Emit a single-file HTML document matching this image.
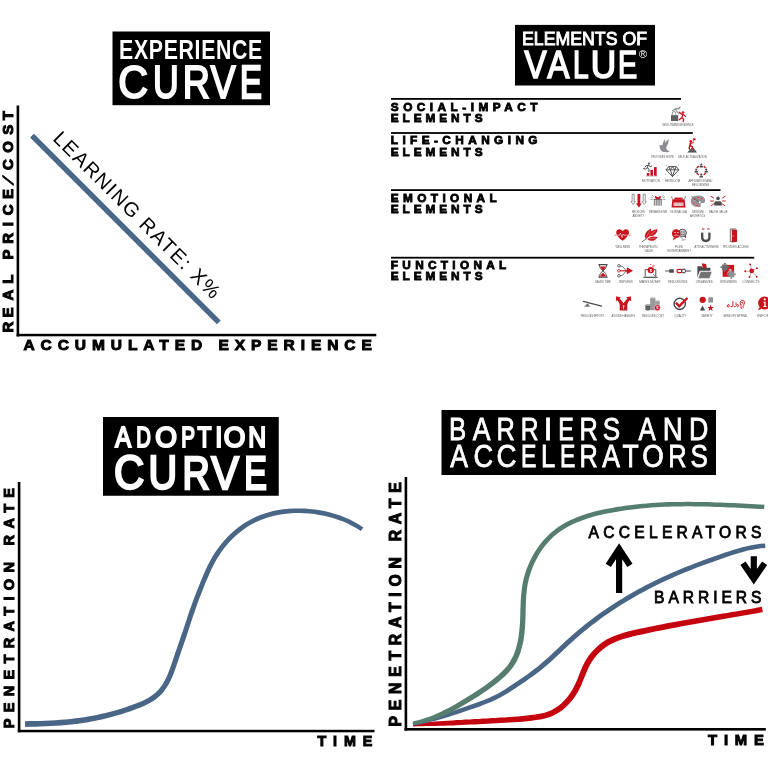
<!DOCTYPE html>
<html lang="en">
<head>
<meta charset="utf-8">
<title>Experience curve, elements of value, adoption curve, barriers and accelerators</title>
<style>
html,body{margin:0;padding:0;background:#fff;}
body{width:768px;height:768px;overflow:hidden;position:relative;font-family:'Liberation Sans', sans-serif;}
svg{position:absolute;left:0;top:0;display:block;will-change:transform;}
svg text{font-family:'Liberation Sans', sans-serif;}
</style>
</head>
<body>
<svg width="768" height="768" viewBox="0 0 768 768">
<rect x="112.5" y="31.5" width="157.5" height="73.7" fill="#000"/>
<text transform="translate(119.1 58.7) scale(0.765 1)" font-size="27.8" font-weight="bold" fill="#fff" textLength="187.19" lengthAdjust="spacing">EXPERIENCE</text>
<text y="98.1" font-size="45.4" font-weight="normal" fill="#fff"><tspan x="118.21" textLength="29.76" lengthAdjust="spacingAndGlyphs" stroke="#fff" stroke-width="2.0">C</tspan><tspan x="152.90" textLength="25.75" lengthAdjust="spacingAndGlyphs" stroke="#fff" stroke-width="2.0">U</tspan><tspan x="182.81" textLength="27.18" lengthAdjust="spacingAndGlyphs" stroke="#fff" stroke-width="2.0">R</tspan><tspan x="210.38" textLength="25.23" lengthAdjust="spacingAndGlyphs" stroke="#fff" stroke-width="1.8">V</tspan><tspan x="240.01" textLength="21.84" lengthAdjust="spacingAndGlyphs" stroke="#fff" stroke-width="2.4">E</tspan></text>
<rect x="16.6" y="105.5" width="2.6" height="231" fill="#000"/>
<rect x="16.6" y="333.8" width="359.7" height="2.5" fill="#000"/>
<g id="ylabel-tl">
<text x="12.29 27.34 44.29 61.10 74.80 85.35 100.94 118.52 129.58 145.89" y="332" font-size="15" font-weight="bold" fill="#000" transform="rotate(-90 12.8 332)" stroke="#000" stroke-width="1.0">REAL PRICE</text>
<text transform="translate(12.8 185.3) rotate(-90) skewX(-31)" x="0" y="0" font-size="14.2" font-weight="bold" stroke="#000" stroke-width="0.9">/</text>
<text x="174.73 192.02 210.10 224.52" y="332" font-size="15" font-weight="bold" fill="#000" transform="rotate(-90 12.8 332)" stroke="#000" stroke-width="1.0">COST</text>
</g>
<text x="23.4" y="350.3" font-size="15.5" font-weight="bold" fill="#000" textLength="348.4" lengthAdjust="spacing" stroke="#000" stroke-width="1.0">ACCUMULATED EXPERIENCE</text>
<line x1="32" y1="135.7" x2="218.8" y2="322.4" stroke="#4b6787" stroke-width="5.4"/>
<text x="51.9" y="139.4" font-size="20" font-weight="normal" fill="#000" textLength="227" lengthAdjust="spacing" transform="rotate(45 51.9 139.4)">LEARNING RATE: X%</text>
<rect x="515" y="24.9" width="140" height="60.6" fill="#000"/>
<text x="522" y="44.8" font-size="18.2" font-weight="normal" fill="#fff" textLength="125" lengthAdjust="spacingAndGlyphs" stroke="#fff" stroke-width="0.9">ELEMENTS OF</text>
<text y="78.25" font-size="38.2" font-weight="normal" fill="#fff"><tspan x="524.45" textLength="22.04" lengthAdjust="spacingAndGlyphs" stroke="#fff" stroke-width="1.7">V</tspan><tspan x="547.39" textLength="21.83" lengthAdjust="spacingAndGlyphs" stroke="#fff" stroke-width="1.7">A</tspan><tspan x="573.04" textLength="15.64" lengthAdjust="spacingAndGlyphs" stroke="#fff" stroke-width="1.7">L</tspan><tspan x="590.73" textLength="25.43" lengthAdjust="spacingAndGlyphs" stroke="#fff" stroke-width="1.7">U</tspan><tspan x="617.89" textLength="19.20" lengthAdjust="spacingAndGlyphs" stroke="#fff" stroke-width="1.7">E</tspan></text>
<text x="643.05" y="58.2" font-size="11.4" font-weight="normal" fill="#fff" text-anchor="middle">®</text>
<rect x="391" y="98.0" width="290" height="1.8" fill="#000"/>
<rect x="391" y="132.1" width="301.75" height="1.8" fill="#000"/>
<rect x="391" y="189.2" width="329.5" height="1.8" fill="#000"/>
<rect x="391" y="256.8" width="363.25" height="1.8" fill="#000"/>
<text x="390.8" y="110.6" font-size="11.8" font-weight="bold" fill="#000" textLength="146.7" lengthAdjust="spacing" stroke="#000" stroke-width="0.85">SOCIAL-IMPACT</text>
<text x="390.8" y="121.75" font-size="11.8" font-weight="bold" fill="#000" textLength="91.7" lengthAdjust="spacing" stroke="#000" stroke-width="0.85">ELEMENTS</text>
<text x="390.8" y="144.35" font-size="11.8" font-weight="bold" fill="#000" textLength="146.7" lengthAdjust="spacing" stroke="#000" stroke-width="0.85">LIFE-CHANGING</text>
<text x="390.8" y="155.5" font-size="11.8" font-weight="bold" fill="#000" textLength="91.7" lengthAdjust="spacing" stroke="#000" stroke-width="0.85">ELEMENTS</text>
<text x="390.8" y="201.6" font-size="11.8" font-weight="bold" fill="#000" textLength="105.95" lengthAdjust="spacing" stroke="#000" stroke-width="0.85">EMOTIONAL</text>
<text x="390.8" y="213.0" font-size="11.8" font-weight="bold" fill="#000" textLength="91.7" lengthAdjust="spacing" stroke="#000" stroke-width="0.85">ELEMENTS</text>
<text x="390.8" y="269.1" font-size="11.8" font-weight="bold" fill="#000" textLength="115.45" lengthAdjust="spacing" stroke="#000" stroke-width="0.85">FUNCTIONAL</text>
<text x="390.8" y="280.25" font-size="11.8" font-weight="bold" fill="#000" textLength="91.7" lengthAdjust="spacing" stroke="#000" stroke-width="0.85">ELEMENTS</text>
<rect x="103" y="417" width="175.75" height="78.75" fill="#000"/>
<text y="446.9" font-size="29.4" font-weight="normal" fill="#fff"><tspan x="115.30" textLength="15.79" lengthAdjust="spacingAndGlyphs" stroke="#fff" stroke-width="2.1">A</tspan><tspan x="136.19" textLength="14.63" lengthAdjust="spacingAndGlyphs" stroke="#fff" stroke-width="2.1">D</tspan><tspan x="155.32" textLength="21.76" lengthAdjust="spacingAndGlyphs" stroke="#fff" stroke-width="2.1">O</tspan><tspan x="181.35" textLength="13.79" lengthAdjust="spacingAndGlyphs" stroke="#fff" stroke-width="2.1">P</tspan><tspan x="197.54" textLength="13.94" lengthAdjust="spacingAndGlyphs" stroke="#fff" stroke-width="2.1">T</tspan><tspan x="215.18" textLength="7.15" lengthAdjust="spacingAndGlyphs" stroke="#fff" stroke-width="2.1">I</tspan><tspan x="223.63" textLength="21.65" lengthAdjust="spacingAndGlyphs" stroke="#fff" stroke-width="2.1">O</tspan><tspan x="248.27" textLength="17.91" lengthAdjust="spacingAndGlyphs" stroke="#fff" stroke-width="2.1">N</tspan></text>
<text y="488.05" font-size="46.1" font-weight="normal" fill="#fff"><tspan x="113.93" font-size="48.41" y="488.85" textLength="30.22" lengthAdjust="spacingAndGlyphs" stroke="#fff" stroke-width="2.5">C</tspan><tspan x="148.59" font-size="47.48" y="488.95" textLength="28.61" lengthAdjust="spacingAndGlyphs" stroke="#fff" stroke-width="2.5">U</tspan><tspan x="182.46" textLength="27.24" lengthAdjust="spacingAndGlyphs" stroke="#fff" stroke-width="2.5">R</tspan><tspan x="211.27" textLength="27.66" lengthAdjust="spacingAndGlyphs" stroke="#fff" stroke-width="2.3">V</tspan><tspan x="244.13" textLength="22.52" lengthAdjust="spacingAndGlyphs" stroke="#fff" stroke-width="2.8">E</tspan></text>
<rect x="17.8" y="482" width="2.6" height="250.2" fill="#000"/>
<rect x="17.8" y="729.8" width="356.7" height="2.5" fill="#000"/>
<text x="13.9" y="728.3" font-size="14.5" font-weight="bold" fill="#000" textLength="240.3" lengthAdjust="spacing" transform="rotate(-90 13.9 728.3)" stroke="#000" stroke-width="1.0">PENETRATION RATE</text>
<text x="317.5" y="746.3" font-size="14.3" font-weight="bold" fill="#000" textLength="54.7" lengthAdjust="spacing" stroke="#000" stroke-width="1.0">TIME</text>
<path d="M25.1 726.9L30.2 726.8L35.3 726.7L40.4 726.5L45.5 726.3L50.7 726.1L55.8 725.8L60.9 725.4L66.1 725.0L71.2 724.4L76.4 723.9L81.5 723.2L86.6 722.4L91.7 721.6L96.7 720.6L101.7 719.5L106.7 718.3L111.7 717.0L116.7 715.6L121.6 714.2L126.5 712.6L131.4 710.9L136.3 709.1L141.3 707.2L146.1 705.0L150.8 702.6L155.3 699.7L159.4 696.3L163.2 692.4L166.4 688.1L169.1 683.6L171.5 678.8L173.5 674.0L175.3 669.0L177.0 664.1L178.6 659.2L180.3 654.4L181.9 649.6L183.6 644.8L185.2 640.0L186.9 635.1L188.4 630.3L190.0 625.4L191.6 620.6L193.2 615.7L194.9 610.9L196.6 606.1L198.3 601.3L200.1 596.6L202.0 591.8L203.8 587.1L205.7 582.3L207.7 577.7L209.7 573.0L211.8 568.5L214.1 564.0L216.5 559.6L219.1 555.4L221.9 551.2L224.9 547.3L228.1 543.4L231.6 539.8L235.2 536.3L239.0 533.0L242.9 529.9L247.0 527.1L251.2 524.5L255.6 522.2L260.1 520.2L264.7 518.4L269.4 516.9L274.2 515.7L279.1 514.7L284.0 513.9L289.0 513.4L294.1 513.1L299.1 513.1L304.2 513.2L309.2 513.6L314.2 514.1L319.2 514.9L324.1 515.8L329.0 517.0L333.8 518.3L338.5 519.9L343.2 521.6L347.7 523.6L352.2 525.9L356.5 528.3L360.8 531.1L363.3 527.4L358.9 524.5L354.3 521.9L349.7 519.5L344.9 517.4L340.1 515.6L335.2 513.9L330.2 512.5L325.1 511.3L320.0 510.3L314.8 509.5L309.6 508.9L304.4 508.6L299.1 508.4L293.9 508.4L288.7 508.7L283.4 509.3L278.3 510.0L273.2 511.1L268.1 512.4L263.1 513.9L258.3 515.8L253.5 517.9L248.9 520.4L244.4 523.1L240.1 526.0L235.9 529.2L231.9 532.7L228.1 536.3L224.5 540.2L221.1 544.2L217.9 548.4L214.9 552.7L212.2 557.1L209.7 561.7L207.3 566.3L205.1 571.0L203.1 575.7L201.1 580.4L199.2 585.2L197.3 590.0L195.4 594.8L193.6 599.6L191.8 604.4L190.1 609.2L188.4 614.1L186.8 618.9L185.2 623.8L183.6 628.7L182.0 633.5L180.3 638.3L178.7 643.1L177.0 647.9L175.3 652.7L173.7 657.5L172.0 662.4L170.4 667.3L168.6 672.0L166.7 676.7L164.5 681.1L162.0 685.2L159.1 689.0L155.8 692.4L152.2 695.3L148.1 697.9L143.8 700.2L139.2 702.2L134.5 704.1L129.6 705.8L124.8 707.4L120.0 709.0L115.2 710.4L110.3 711.8L105.4 713.0L100.5 714.1L95.6 715.2L90.7 716.1L85.7 716.9L80.7 717.7L75.7 718.3L70.6 718.9L65.6 719.4L60.5 719.8L55.4 720.2L50.4 720.4L45.3 720.7L40.2 720.9L35.1 721.0L30.0 721.1L25.0 721.2z" fill="#4a6686"/>
<rect x="441.5" y="410" width="274.5" height="65" fill="#000"/>
<text y="440.0" font-size="30.5" font-weight="normal" fill="#fff"><tspan x="448.98" textLength="17.23" lengthAdjust="spacingAndGlyphs" stroke="#fff" stroke-width="0.8">B</tspan><tspan x="472.65" textLength="17.70" lengthAdjust="spacingAndGlyphs" stroke="#fff" stroke-width="0.8">A</tspan><tspan x="496.57" textLength="18.31" lengthAdjust="spacingAndGlyphs" stroke="#fff" stroke-width="0.8">R</tspan><tspan x="520.78" textLength="17.76" lengthAdjust="spacingAndGlyphs" stroke="#fff" stroke-width="0.8">R</tspan><tspan x="543.73" textLength="8.64" lengthAdjust="spacingAndGlyphs" stroke="#fff" stroke-width="0.8">I</tspan><tspan x="558.29" textLength="15.51" lengthAdjust="spacingAndGlyphs" stroke="#fff" stroke-width="0.8">E</tspan><tspan x="579.43" textLength="18.24" lengthAdjust="spacingAndGlyphs" stroke="#fff" stroke-width="0.8">R</tspan><tspan x="602.72" textLength="17.38" lengthAdjust="spacingAndGlyphs" stroke="#fff" stroke-width="0.8">S</tspan><tspan x="624.00"> </tspan><tspan x="638.45" textLength="17.20" lengthAdjust="spacingAndGlyphs" stroke="#fff" stroke-width="0.8">A</tspan><tspan x="662.63" textLength="19.97" lengthAdjust="spacingAndGlyphs" stroke="#fff" stroke-width="0.8">N</tspan><tspan x="688.95" textLength="19.33" lengthAdjust="spacingAndGlyphs" stroke="#fff" stroke-width="0.8">D</tspan></text>
<text y="467.1" font-size="30.5" font-weight="normal" fill="#fff"><tspan x="450.15" textLength="17.70" lengthAdjust="spacingAndGlyphs" stroke="#fff" stroke-width="0.8">A</tspan><tspan x="473.62" textLength="19.61" lengthAdjust="spacingAndGlyphs" stroke="#fff" stroke-width="0.8">C</tspan><tspan x="496.60" textLength="19.96" lengthAdjust="spacingAndGlyphs" stroke="#fff" stroke-width="0.8">C</tspan><tspan x="520.90" textLength="15.44" lengthAdjust="spacingAndGlyphs" stroke="#fff" stroke-width="0.8">E</tspan><tspan x="541.10" textLength="14.25" lengthAdjust="spacingAndGlyphs" stroke="#fff" stroke-width="0.8">L</tspan><tspan x="560.01" textLength="15.38" lengthAdjust="spacingAndGlyphs" stroke="#fff" stroke-width="0.8">E</tspan><tspan x="579.43" textLength="18.24" lengthAdjust="spacingAndGlyphs" stroke="#fff" stroke-width="0.8">R</tspan><tspan x="602.15" textLength="17.70" lengthAdjust="spacingAndGlyphs" stroke="#fff" stroke-width="0.8">A</tspan><tspan x="622.50" textLength="16.20" lengthAdjust="spacingAndGlyphs" stroke="#fff" stroke-width="0.8">T</tspan><tspan x="642.19" textLength="21.54" lengthAdjust="spacingAndGlyphs" stroke="#fff" stroke-width="0.8">O</tspan><tspan x="668.22" textLength="18.31" lengthAdjust="spacingAndGlyphs" stroke="#fff" stroke-width="0.8">R</tspan><tspan x="690.42" textLength="17.38" lengthAdjust="spacingAndGlyphs" stroke="#fff" stroke-width="0.8">S</tspan></text>
<rect x="404.6" y="477" width="2.6" height="253.6" fill="#000"/>
<rect x="404.5" y="728.0" width="361.3" height="2.6" fill="#000"/>
<text x="400.6" y="726.5" font-size="15.8" font-weight="bold" fill="#000" textLength="244.2" lengthAdjust="spacing" transform="rotate(-90 400.6 726.5)" stroke="#000" stroke-width="1.0">PENETRATION RATE</text>
<text x="708" y="744.8" font-size="14.8" font-weight="bold" fill="#000" textLength="55.9" lengthAdjust="spacing" stroke="#000" stroke-width="1.0">TIME</text>
<path d="M413.1 726.4L417.5 726.3L421.9 726.2L426.2 726.1L430.6 726.0L435.0 725.9L439.4 725.8L443.8 725.7L448.2 725.6L452.6 725.5L456.9 725.2L461.3 725.0L465.7 724.8L470.1 724.6L474.5 724.4L478.8 724.2L483.2 723.9L487.6 723.7L492.0 723.5L496.3 723.3L500.7 723.0L505.1 722.8L509.5 722.6L513.9 722.3L518.3 722.0L522.7 721.7L527.2 721.2L531.6 720.7L536.0 720.1L540.5 719.4L544.9 718.4L549.4 717.2L553.7 715.5L557.7 713.3L561.6 710.7L565.2 707.8L568.5 704.6L571.6 701.1L574.4 697.4L576.9 693.5L579.2 689.4L581.2 685.3L582.9 681.1L584.6 677.0L586.2 673.0L587.9 669.1L589.7 665.3L591.8 661.7L594.1 658.4L596.8 655.1L599.7 652.2L602.8 649.4L606.1 646.9L609.6 644.8L613.2 642.9L617.0 641.2L621.0 639.8L625.1 638.5L629.2 637.4L633.5 636.3L637.8 635.3L642.1 634.4L646.4 633.4L650.7 632.5L655.0 631.6L659.3 630.8L663.6 629.9L667.9 629.1L672.2 628.2L676.5 627.4L680.8 626.6L685.1 625.8L689.3 625.1L693.6 624.3L697.9 623.5L702.2 622.8L706.5 622.0L710.8 621.3L715.2 620.5L719.5 619.8L723.8 619.1L728.1 618.3L732.4 617.6L736.7 616.8L741.1 616.1L745.4 615.3L749.7 614.5L754.1 613.7L758.4 612.9L762.8 612.1L761.8 606.8L757.4 607.6L753.1 608.4L748.8 609.2L744.4 609.9L740.1 610.7L735.8 611.4L731.5 612.1L727.2 612.9L722.8 613.6L718.5 614.3L714.2 615.0L709.9 615.7L705.6 616.5L701.3 617.2L697.0 617.9L692.7 618.7L688.4 619.4L684.0 620.2L679.7 621.0L675.4 621.7L671.1 622.5L666.8 623.3L662.5 624.2L658.1 625.0L653.8 625.9L649.5 626.8L645.2 627.7L640.8 628.6L636.5 629.6L632.1 630.6L627.8 631.6L623.4 632.8L619.1 634.2L614.9 635.7L610.7 637.5L606.6 639.6L602.7 642.1L599.1 644.8L595.6 647.9L592.4 651.2L589.4 654.8L586.8 658.6L584.5 662.6L582.5 666.6L580.7 670.7L579.1 674.8L577.5 678.9L575.8 682.9L573.9 686.7L571.9 690.4L569.6 694.0L567.0 697.4L564.2 700.5L561.3 703.4L558.1 706.0L554.7 708.3L551.2 710.2L547.5 711.7L543.6 712.9L539.4 713.8L535.2 714.5L530.9 715.1L526.6 715.6L522.2 716.1L517.9 716.5L513.5 716.8L509.2 717.1L504.8 717.4L500.4 717.6L496.1 717.9L491.7 718.1L487.3 718.4L482.9 718.6L478.5 718.9L474.2 719.1L469.8 719.4L465.4 719.6L461.1 719.9L456.7 720.1L452.3 720.4L447.9 720.7L443.6 721.0L439.2 721.3L434.8 721.6L430.4 721.9L426.1 722.2L421.7 722.5L417.3 722.7L412.9 723.0z" fill="#c4040e"/>
<path d="M413.3 725.8L417.8 724.9L422.2 724.0L426.6 722.9L431.0 721.8L435.4 720.7L439.8 719.5L444.1 718.2L448.4 716.9L452.8 715.6L457.0 714.2L461.3 712.8L465.6 711.3L469.9 709.8L474.2 708.4L478.4 706.9L482.7 705.3L486.9 703.6L491.1 701.9L495.3 700.0L499.4 698.0L503.4 695.8L507.3 693.5L511.2 691.0L515.0 688.5L518.7 686.0L522.5 683.5L526.2 680.9L529.9 678.3L533.6 675.7L537.3 673.0L540.9 670.2L544.4 667.3L547.8 664.4L551.2 661.4L554.6 658.3L557.9 655.3L561.2 652.2L564.5 649.1L567.7 646.0L571.0 642.9L574.3 639.9L577.7 637.0L581.1 634.1L584.5 631.2L588.0 628.4L591.5 625.6L595.1 622.9L598.6 620.2L602.2 617.6L605.9 615.0L609.6 612.5L613.3 610.0L617.0 607.5L620.8 605.1L624.6 602.8L628.4 600.5L632.3 598.2L636.1 596.0L640.0 593.8L644.0 591.7L647.9 589.6L651.9 587.5L655.9 585.5L659.9 583.5L664.0 581.6L668.0 579.7L672.1 577.9L676.2 576.1L680.4 574.3L684.5 572.6L688.7 570.9L692.8 569.2L697.0 567.6L701.2 566.0L705.4 564.4L709.6 562.9L713.9 561.4L718.1 559.9L722.3 558.4L726.6 557.0L730.8 555.6L735.1 554.2L739.3 552.9L743.6 551.7L747.9 550.6L752.2 549.7L756.6 548.9L760.9 548.3L765.4 547.9L765.1 543.4L760.4 543.8L755.8 544.4L751.3 545.2L746.9 546.2L742.4 547.3L738.1 548.5L733.7 549.8L729.4 551.2L725.1 552.6L720.9 554.1L716.6 555.5L712.3 557.0L708.1 558.5L703.8 560.1L699.6 561.7L695.3 563.3L691.1 564.9L686.9 566.6L682.7 568.3L678.5 570.0L674.4 571.8L670.2 573.6L666.1 575.4L662.0 577.3L657.9 579.3L653.8 581.2L649.8 583.3L645.7 585.3L641.7 587.4L637.7 589.6L633.8 591.8L629.8 594.0L625.9 596.3L622.1 598.7L618.2 601.0L614.4 603.5L610.6 605.9L606.8 608.5L603.1 611.0L599.4 613.6L595.7 616.3L592.1 619.0L588.5 621.7L584.9 624.5L581.4 627.4L577.9 630.3L574.5 633.2L571.1 636.2L567.7 639.3L564.3 642.3L561.0 645.4L557.8 648.5L554.5 651.6L551.2 654.7L547.9 657.7L544.6 660.6L541.2 663.5L537.8 666.4L534.3 669.1L530.8 671.8L527.2 674.4L523.5 677.0L519.8 679.5L516.1 682.1L512.3 684.6L508.6 687.1L504.9 689.5L501.1 691.7L497.2 693.9L493.3 695.8L489.3 697.7L485.2 699.4L481.1 701.0L476.9 702.6L472.7 704.1L468.4 705.6L464.2 707.1L459.9 708.6L455.6 710.0L451.4 711.4L447.1 712.8L442.9 714.2L438.6 715.6L434.3 716.9L430.0 718.1L425.7 719.3L421.4 720.4L417.0 721.5L412.7 722.5z" fill="#4a6686"/>
<path d="M413.3 725.0L417.7 724.3L422.1 723.3L426.4 722.2L430.7 720.9L434.9 719.5L439.0 717.9L443.0 716.2L447.0 714.3L450.9 712.4L454.8 710.3L458.6 708.2L462.4 706.0L466.2 703.7L469.9 701.5L473.6 699.2L477.4 696.9L481.1 694.5L484.7 692.1L488.4 689.6L491.9 687.0L495.5 684.3L499.0 681.5L502.4 678.6L505.7 675.6L508.9 672.3L511.9 668.8L514.5 665.1L516.8 661.2L518.7 657.1L520.3 652.9L521.6 648.6L522.7 644.3L523.6 639.9L524.2 635.4L524.7 631.0L525.1 626.5L525.3 622.1L525.5 617.7L525.6 613.4L525.7 609.0L525.8 604.7L526.0 600.4L526.2 596.2L526.6 592.0L527.1 587.8L527.8 583.6L528.7 579.5L529.8 575.4L531.2 571.3L532.7 567.3L534.4 563.3L536.3 559.5L538.4 555.7L540.6 552.1L543.0 548.5L545.6 545.2L548.4 542.0L551.3 538.9L554.3 536.1L557.5 533.4L560.9 531.0L564.4 528.7L567.9 526.7L571.7 524.7L575.5 523.0L579.4 521.4L583.4 519.9L587.4 518.5L591.6 517.3L595.8 516.1L600.0 515.1L604.2 514.1L608.5 513.2L612.8 512.4L617.1 511.7L621.4 511.0L625.7 510.3L630.0 509.7L634.3 509.2L638.6 508.7L642.9 508.3L647.2 507.9L651.5 507.6L655.8 507.3L660.1 507.0L664.4 506.8L668.7 506.7L673.0 506.5L677.3 506.4L681.7 506.4L686.0 506.3L690.3 506.3L694.6 506.4L698.9 506.4L703.3 506.5L707.6 506.6L711.9 506.7L716.3 506.9L720.6 507.0L724.9 507.2L729.3 507.4L733.6 507.6L738.0 507.8L742.3 508.0L746.7 508.2L751.0 508.4L755.4 508.7L759.8 508.9L764.1 509.1L764.4 504.7L760.0 504.5L755.6 504.3L751.3 504.0L746.9 503.8L742.6 503.6L738.2 503.3L733.8 503.1L729.5 502.9L725.1 502.7L720.8 502.6L716.4 502.4L712.1 502.2L707.7 502.1L703.4 502.0L699.0 501.9L694.7 501.9L690.3 501.8L686.0 501.8L681.6 501.9L677.3 501.9L672.9 502.0L668.6 502.1L664.2 502.3L659.9 502.5L655.5 502.7L651.2 503.0L646.8 503.4L642.5 503.7L638.1 504.2L633.8 504.7L629.4 505.2L625.1 505.8L620.7 506.4L616.3 507.1L612.0 507.9L607.6 508.7L603.3 509.6L598.9 510.6L594.6 511.6L590.3 512.8L586.0 514.1L581.8 515.5L577.7 517.0L573.6 518.7L569.6 520.5L565.7 522.6L561.9 524.7L558.2 527.1L554.7 529.7L551.2 532.5L548.0 535.5L544.9 538.7L541.9 542.1L539.1 545.7L536.5 549.4L534.1 553.2L531.9 557.2L529.9 561.2L528.1 565.4L526.4 569.6L525.0 573.9L523.8 578.3L522.8 582.6L522.1 587.0L521.5 591.4L521.1 595.8L520.8 600.1L520.6 604.5L520.4 608.9L520.3 613.2L520.2 617.5L520.0 621.9L519.7 626.2L519.3 630.4L518.8 634.7L518.2 638.9L517.4 643.1L516.3 647.2L515.1 651.1L513.6 654.9L511.8 658.6L509.8 662.1L507.5 665.4L504.8 668.6L501.9 671.6L498.8 674.5L495.5 677.3L492.1 680.0L488.7 682.7L485.3 685.2L481.7 687.7L478.2 690.1L474.5 692.4L470.9 694.8L467.2 697.1L463.5 699.3L459.8 701.6L456.1 703.7L452.3 705.9L448.6 707.9L444.8 709.8L441.0 711.7L437.1 713.5L433.2 715.2L429.2 716.7L425.2 718.1L421.1 719.4L416.9 720.5L412.7 721.4z" fill="#567e6f"/>
<text x="588.6" y="538.3" font-size="15.6" font-weight="normal" fill="#000" textLength="172.8" lengthAdjust="spacing" stroke="#000" stroke-width="0.8">ACCELERATORS</text>
<text x="654.1" y="603.05" font-size="15.6" font-weight="normal" fill="#000" textLength="107.3" lengthAdjust="spacing" stroke="#000" stroke-width="0.8">BARRIERS</text>
<path d="M619.1 593V550 M608.3 565.4L619.1 548.9L629.9 565.4" fill="none" stroke="#000" stroke-width="6.2" stroke-linejoin="miter"/>
<path d="M753.8 556.2V578 M743 563.2L753.8 579L764.6 563.2" fill="none" stroke="#000" stroke-width="6.2" stroke-linejoin="miter"/>
<g id="value-icons" font-weight="normal">
<rect x="671" y="115.1" width="7.2" height="5.9" fill="#5e5f61"/>
<path d="M672.3 115.3v-2.2q0-1.6 1.7-1.6q1.7 0 1.7 1.6v2.2" fill="none" stroke="#8b8d90" stroke-width="0.9"/>
<path d="M672.6 110.6l3.8-2.2l2.3 0.4l1.2-1.3 M675.5 109l1.2 2.4 2.4 2.4" fill="none" stroke="#8b8d90" stroke-width="1.1" stroke-linecap="round"/>
<circle cx="679.6" cy="107.6" r="0.9" fill="#8b8d90"/>
<circle cx="683" cy="112.6" r="1.25" fill="#c8141d"/>
<path d="M679.4 112.2l2.6 2.3l1.4 0.2l2.2 1.6 M682.6 114.6l-0.6 3l-2.8 2.2 M682 117.6l1.6 1.5l-0.4 2.6" fill="none" stroke="#c8141d" stroke-width="1.25" stroke-linecap="round" stroke-linejoin="round"/>
<text x="677.90" y="126.16" font-size="4.1" text-anchor="middle" textLength="31.40" lengthAdjust="spacingAndGlyphs" fill="#59595b">SELF-TRANSCENDENCE</text>
<path d="M659.4 145.6q1.6-0.9 2.9-0.2q0.6-3.6 2.9-6.6q0.2 2.6-0.2 4.4q1.5-2.8 3.9-4.3q-0.2 4.6-2.6 8.2q-0.4 1.5 0.6 2.6l2.8 1.9q-2.7 1.2-4.9 0.1q-1.2 0.6-2.6-0.2q-2.2-1.3-2.8-5.9z" fill="#8b8d90"/>
<text x="662.58" y="157.71" font-size="4.1" text-anchor="middle" textLength="22.65" lengthAdjust="spacingAndGlyphs" fill="#59595b">PROVIDES HOPE</text>
<path d="M687.200 152.400l4.700-5l2.100 1.100l3.100 3.900z" fill="#4b4b4d"/>
<path d="M689 151.600l3-3.200 M691.600 151.600l1.600-2.200 M694 151.600l0.600-1.200" fill="none" stroke="#d9dadb" stroke-width="0.35"/>
<circle cx="690.800" cy="141.200" r="1.200" fill="#c8141d"/>
<path d="M693.200 143.200v-4.800" stroke="#c8141d" stroke-width="0.6" fill="none"/>
<path d="M693.200 138.300h2.400v2h-2.400z" fill="#c8141d"/>
<path d="M690.600 142.800l-0.600 2.800" fill="none" stroke="#c8141d" stroke-width="1.800" stroke-linecap="round"/>
<path d="M690.800 143.300l2.300-0.500" fill="none" stroke="#c8141d" stroke-width="1.100" stroke-linecap="round"/>
<path d="M690.100 145.700l2.200 0.900l0.300 2.100 M689.900 145.800l-0.800 1.900l0.500 1.500" fill="none" stroke="#c8141d" stroke-width="1.400" stroke-linecap="round" stroke-linejoin="round"/>
<text x="692.35" y="157.71" font-size="4.1" text-anchor="middle" textLength="28.70" lengthAdjust="spacingAndGlyphs" fill="#59595b">SELF-ACTUALIZATION</text>
<rect x="646.8" y="173" width="2.6" height="2.8" fill="#c8141d"/><rect x="650.4" y="170" width="2.6" height="5.8" fill="#c8141d"/><rect x="654" y="167.1" width="2.7" height="8.7" fill="#c8141d"/>
<path d="M645.6 176.2h12" stroke="#8b8d90" stroke-width="0.5"/>
<circle cx="649" cy="163.4" r="1" fill="#4b4b4d"/>
<path d="M648.4 165l-1.2 2.8l1.9 1.4l-0.3 2.4 M647.2 167.8l-1.6 1.2l-2-0.4 M648.2 165.3l-2 0.3l-1 1.4 M648.6 165.4l1.8 1.2l1.4-0.8" fill="none" stroke="#4b4b4d" stroke-width="1" stroke-linecap="round" stroke-linejoin="round"/>
<text x="650.85" y="182.41" font-size="4.1" text-anchor="middle" textLength="17.90" lengthAdjust="spacingAndGlyphs" fill="#59595b">MOTIVATION</text>
<path d="M668.7 166.6h7.6l2.6 3.2l-6.4 6.8l-6.4-6.8z M666.1 169.8h12.8 M668.7 166.6l1.6 3.2l2.2 6.8l2.2-6.8l1.6-3.2 M672.5 166.6l-2.2 3.2 M672.5 166.6l2.2 3.2" fill="none" stroke="#4b4b4d" stroke-width="0.95" stroke-linejoin="round"/>
<path d="M666.3 165.2v1.2M665.7 165.8h1.2 M678.4 164.4v1.4M677.7 165.1h1.4 M665.6 173.6v1M665.1 174.1h1 M677.7 175.1v1.2M677.1 175.7h1.2" stroke="#8b8d90" stroke-width="0.35"/>
<text x="672.55" y="182.41" font-size="4.1" text-anchor="middle" textLength="15.10" lengthAdjust="spacingAndGlyphs" fill="#59595b">HEIRLOOM</text>
<circle cx="701.25" cy="170.5" r="5" fill="none" stroke="#c8141d" stroke-width="1.3"/>
<circle cx="701.25" cy="165.5" r="2.5" fill="#fff"/>
<circle cx="701.25" cy="164.5" r="1.1" fill="#4b4b4d"/>
<path d="M699.25 167.6q0-2.200 2-2.200q2 0 2 2.200z" fill="#4b4b4d"/>
<circle cx="701.25" cy="175.5" r="2.5" fill="#fff"/>
<circle cx="701.25" cy="174.5" r="1.1" fill="#4b4b4d"/>
<path d="M699.25 177.6q0-2.200 2-2.200q2 0 2 2.200z" fill="#4b4b4d"/>
<circle cx="696.25" cy="170.5" r="2.5" fill="#fff"/>
<circle cx="696.25" cy="169.5" r="1.1" fill="#4b4b4d"/>
<path d="M694.25 172.6q0-2.200 2-2.200q2 0 2 2.200z" fill="#4b4b4d"/>
<circle cx="706.25" cy="170.5" r="2.5" fill="#fff"/>
<circle cx="706.25" cy="169.5" r="1.1" fill="#4b4b4d"/>
<path d="M704.25 172.6q0-2.200 2-2.200q2 0 2 2.200z" fill="#4b4b4d"/>
<text x="700.40" y="182.41" font-size="4.1" text-anchor="middle" textLength="24.00" lengthAdjust="spacingAndGlyphs" fill="#59595b">AFFILIATION AND</text>
<text x="700.55" y="186.21" font-size="4.1" text-anchor="middle" textLength="17.50" lengthAdjust="spacingAndGlyphs" fill="#59595b">BELONGING</text>
<path d="M632.15 194.2h2v7.4h1.2l-2.2 2.8l-2.2-2.8h1.2z" fill="#fff" stroke="#6a6b6d" stroke-width="0.7" stroke-linejoin="round"/>
<path d="M643.25 194.2h2v7.4h1.2l-2.2 2.8l-2.2-2.8h1.2z" fill="#fff" stroke="#6a6b6d" stroke-width="0.7" stroke-linejoin="round"/>
<path d="M637.5 194h2.8v9.6h1.5l-2.9 4l-2.9-4h1.5z" fill="#c8141d"/>
<text x="638.20" y="213.11" font-size="4.1" text-anchor="middle" textLength="13.00" lengthAdjust="spacingAndGlyphs" fill="#59595b">REDUCES</text>
<text x="638.40" y="217.01" font-size="4.1" text-anchor="middle" textLength="11.80" lengthAdjust="spacingAndGlyphs" fill="#59595b">ANXIETY</text>
<rect x="653.8" y="199.3" width="8.2" height="6.3" fill="#8b8d90"/>
<path d="M655.5 199.3v6.300M657.900 199.300v6.300M660.300 199.300v6.300" stroke="#fff" stroke-width="0.6"/>
<path d="M653.500 199.500h8.800" stroke="#4b4b4d" stroke-width="0.7"/>
<path d="M657.900 199.200q-3.400-0.300-3-2.500q0.500-1.800 3 0.900q2.500-2.700 3-0.900q0.400 2.200-3 2.500z" fill="#c8141d"/>
<path d="M651.200 197l1.300 0.800M650.900 199.500h1.200M652.400 195.200l0.800 1.100 M664.600 197l-1.300 0.800M664.900 199.500h-1.200M663.400 195.200l-0.800 1.100" stroke="#4b4b4d" stroke-width="0.55" stroke-linecap="round"/>
<text x="658.00" y="213.11" font-size="4.1" text-anchor="middle" textLength="18.60" lengthAdjust="spacingAndGlyphs" fill="#59595b">REWARDS ME</text>
<path d="M672.4 199.3h12.2l0.9 8.3h-14z" fill="#c8141d"/>
<rect x="673.6" y="202.6" width="9.8" height="3.3" fill="#f3e9e9"/>
<path d="M674 203.7h9M674 204.9h9" stroke="#c8141d" stroke-width="0.4" stroke-dasharray="0.9 0.5"/>
<rect x="674.4" y="197.6" width="8.2" height="1.9" fill="#c8141d"/>
<path d="M672.6 199.2q-1.3-1-0.9-2.8 M684.4 199.2q1.3-1 0.9-2.8" fill="none" stroke="#4b4b4d" stroke-width="0.7" stroke-linecap="round"/>
<text x="678.65" y="213.11" font-size="4.1" text-anchor="middle" textLength="16.50" lengthAdjust="spacingAndGlyphs" fill="#59595b">NOSTALGIA</text>
<path d="M698 195.5q7 0 7.2 5.2q0.1 2.6-2.6 2.4q-2-0.2-2.2 1.2q-0.1 1 0.6 1.6q0.4 1.1-2.4 1.1q-7.4-0.2-7.8-5.6q0-5.6 7.2-5.900z" fill="#8b8d90"/>
<circle cx="694.6" cy="199.2" r="1.15" fill="#c8141d" stroke="#fff" stroke-width="0.35"/>
<circle cx="698" cy="197.6" r="1.15" fill="#c8141d" stroke="#fff" stroke-width="0.35"/>
<circle cx="701.9" cy="198.8" r="1.15" fill="#c8141d" stroke="#fff" stroke-width="0.35"/>
<circle cx="694" cy="203" r="1.1" fill="#c8141d" stroke="#fff" stroke-width="0.35"/>
<circle cx="697.2" cy="205.4" r="1.1" fill="#c8141d" stroke="#fff" stroke-width="0.35"/>
<path d="M691.4 196.2l7.2 5.400" stroke="#4b4b4d" stroke-width="0.6" stroke-linecap="round"/>
<circle cx="699.6" cy="202.200" r="1" fill="#fff"/>
<text x="697.95" y="213.11" font-size="4.1" text-anchor="middle" textLength="11.90" lengthAdjust="spacingAndGlyphs" fill="#59595b">DESIGN/</text>
<text x="697.55" y="217.01" font-size="4.1" text-anchor="middle" textLength="15.30" lengthAdjust="spacingAndGlyphs" fill="#59595b">AESTHETICS</text>
<circle cx="718" cy="198.4" r="1.8" fill="#4b4b4d"/>
<path d="M714.2 205.600v-2.100q0-2.400 3.800-2.400q3.800 0 3.800 2.400v2.100z" fill="#4b4b4d"/>
<path d="M717.200 201.400l0.800 1.100l0.800-1.100" fill="#fff"/>
<path d="M711 196.3l2.600 1.700M710.700 201h2.700M711.200 205.600l2.400-1.600 M725 196.300l-2.600 1.700M725.300 201h-2.700M724.800 205.600l-2.400-1.600" stroke="#c8141d" stroke-width="0.95" stroke-linecap="round"/>
<text x="718.25" y="213.11" font-size="4.1" text-anchor="middle" textLength="18.70" lengthAdjust="spacingAndGlyphs" fill="#59595b">BADGE VALUE</text>
<path d="M622.600 240.700q-6.600-4.700-6.400-8.300q0.200-3.100 3.100-3.200q2.100 0 3.300 2q1.200-2 3.300-2q2.900 0.100 3.100 3.200q0.200 3.600-6.400 8.300z" fill="#c8141d"/>
<path d="M615 235.200h4.500l1-2.200l1.500 4.400l1.400-3.400l0.900 1.200h5.900" fill="none" stroke="#fff" stroke-width="0.6" stroke-linejoin="round"/>
<path d="M614.700 235.200h2 M628.500 235.200h2" stroke="#c8141d" stroke-width="0.6"/>
<text x="622.80" y="247.81" font-size="4.1" text-anchor="middle" textLength="14.60" lengthAdjust="spacingAndGlyphs" fill="#59595b">WELLNESS</text>
<path d="M645.400 238.800q-2.600-5.600 5.400-10.200q2.200 7.400-5.400 10.200z" fill="#c8141d"/>
<path d="M648.600 236.200q0.200-5.600 9-7.200q-1 8-9 7.200z" fill="#c8141d"/>
<path d="M647.400 239.600q3.400-4.600 10.300-2.400q-4.300 5.800-10.300 2.400z" fill="#c8141d"/>
<path d="M641.900 241.800l5.400-3.600" stroke="#4b4b4d" stroke-width="0.8" stroke-linecap="round"/>
<path d="M646 237.600l3.600-6.400 M649.400 235.500l6-4.600 M648.800 238.900l6.800-0.900" stroke="#fff" stroke-width="0.35"/>
<text x="648.58" y="247.81" font-size="4.1" text-anchor="middle" textLength="19.35" lengthAdjust="spacingAndGlyphs" fill="#59595b">THERAPEUTIC</text>
<text x="648.80" y="251.91" font-size="4.1" text-anchor="middle" textLength="8.40" lengthAdjust="spacingAndGlyphs" fill="#59595b">VALUE</text>
<circle cx="682.600" cy="232.900" r="3.800" fill="#c5c6c8" stroke="#4b4b4d" stroke-width="0.9"/>
<path d="M680.900 232h1M683.800 232h1 M681 234.200q1.600 1.200 3.400 0" stroke="#4b4b4d" stroke-width="0.7" fill="none" stroke-linecap="round"/>
<path d="M683.800 236.200l2.400 2.600l-0.400-3.400" fill="#4b4b4d"/>
<path d="M679.800 236.400l3.600 3.200 M681.800 240.200l3.800-0.600" stroke="#4b4b4d" stroke-width="0.5"/>
<circle cx="676.200" cy="233.600" r="4.300" fill="#c8141d"/>
<path d="M674 237.200l-1.400 3.200l3.600-2.200z" fill="#c8141d"/>
<path d="M674.400 232.600h1.200M677.400 232.600h1.200 M674.400 235.600q1.800-1.400 3.800 0" stroke="#fff" stroke-width="0.6" fill="none" stroke-linecap="round"/>
<text x="679.05" y="247.81" font-size="4.1" text-anchor="middle" textLength="7.90" lengthAdjust="spacingAndGlyphs" fill="#59595b">FUN/</text>
<text x="679.25" y="251.91" font-size="4.1" text-anchor="middle" textLength="23.30" lengthAdjust="spacingAndGlyphs" fill="#59595b">ENTERTAINMENT</text>
<path d="M702.200 232.400v5.200q0 3.400 3.600 3.400q3.600 0 3.600-3.400v-5.200" fill="none" stroke="#4b4b4d" stroke-width="2.300"/>
<path d="M701.050 232.200h2.300v-1.700h-2.300z M708.250 232.200h2.300v-1.700h-2.300z" fill="#fff"/>
<path d="M702.400 229.600l0.400-1.300 M703.600 229.600l0.500-1.100 M709.200 229.600l-0.400-1.300 M708 229.600l-0.500-1.100" stroke="#c8141d" stroke-width="0.7" stroke-linecap="round"/>
<text x="706.60" y="247.81" font-size="4.1" text-anchor="middle" textLength="24.00" lengthAdjust="spacingAndGlyphs" fill="#59595b">ATTRACTIVENESS</text>
<path d="M730.300 229h5.700v12.500h-5.700z" fill="none" stroke="#4b4b4d" stroke-width="0.8"/>
<path d="M731.800 229.300l5.300 0.900v11.500l-5.300 0.900z" fill="#c8141d"/>
<circle cx="733" cy="236" r="0.5" fill="#fff"/>
<text x="735.67" y="247.81" font-size="4.1" text-anchor="middle" textLength="25.85" lengthAdjust="spacingAndGlyphs" fill="#59595b">PROVIDES ACCESS</text>
<path d="M598.400 264.600h9.200 M598.400 277.100h9.200" stroke="#4b4b4d" stroke-width="1.200"/>
<path d="M599.400 265q0 3.600 3.600 5.850q-3.600 2.250-3.600 5.850 M606.600 265q0 3.600-3.600 5.850q3.600 2.250 3.600 5.850" fill="none" stroke="#4b4b4d" stroke-width="1"/>
<path d="M600.300 266.600h5.400q-0.800 2.600-2.700 4q-1.900-1.400-2.700-4z M603 272.600l3.200 4h-6.400z" fill="#c8141d"/>
<text x="602.92" y="283.21" font-size="4.1" text-anchor="middle" textLength="15.65" lengthAdjust="spacingAndGlyphs" fill="#59595b">SAVES TIME</text>
<path d="M619.700 265.800q3.400 0 4.600 2.500t3.200 2.500 M619.700 275.800q3.400 0 4.600-2.500t3.200-2.500" fill="none" stroke="#4b4b4d" stroke-width="0.8"/>
<circle cx="618.900" cy="265.800" r="1.300" fill="#fff" stroke="#4b4b4d" stroke-width="0.85"/><circle cx="618.900" cy="275.800" r="1.300" fill="#fff" stroke="#4b4b4d" stroke-width="0.85"/>
<path d="M620 270.800h8.600" stroke="#c8141d" stroke-width="1.150"/>
<circle cx="618.900" cy="270.800" r="1.300" fill="#fff" stroke="#c8141d" stroke-width="0.85"/>
<path d="M626.800 267.300l6.200 3.500l-6.200 3.500z" fill="#c8141d"/>
<text x="625.75" y="283.21" font-size="4.1" text-anchor="middle" textLength="13.70" lengthAdjust="spacingAndGlyphs" fill="#59595b">SIMPLIFIES</text>
<path d="M645.200 276.200v-6.600h3.200 M655.800 276.200v-6.600h-1.800" fill="none" stroke="#4b4b4d" stroke-width="0.95"/>
<path d="M643.400 277.300h14.200" stroke="#4b4b4d" stroke-width="1.200"/>
<path d="M653.200 274.200l3 2.600" stroke="#4b4b4d" stroke-width="0.7"/>
<circle cx="650.800" cy="270.100" r="3.200" fill="#c8141d"/>
<text x="650.800" y="271.800" font-size="4.200" font-weight="bold" text-anchor="middle" fill="#fff">$</text>
<circle cx="653.300" cy="266" r="0.800" fill="none" stroke="#c8141d" stroke-width="0.500"/><circle cx="650.800" cy="264.600" r="0.600" fill="#c8141d"/>
<text x="650.00" y="283.21" font-size="4.1" text-anchor="middle" textLength="21.50" lengthAdjust="spacingAndGlyphs" fill="#59595b">MAKES MONEY</text>
<path d="M665.200 271h4.400" stroke="#8b8d90" stroke-width="1.500"/>
<rect x="669.200" y="269.200" width="4.600" height="3.600" rx="0.5" fill="#4b4b4d"/>
<rect x="677" y="269.400" width="5" height="3.200" rx="1.600" fill="none" stroke="#c8141d" stroke-width="1.250"/>
<circle cx="683.600" cy="271" r="1.900" fill="#fff" stroke="#4b4b4d" stroke-width="1.100"/>
<path d="M685.600 271h5.200" stroke="#8b8d90" stroke-width="1.700"/>
<text x="677.80" y="283.21" font-size="4.1" text-anchor="middle" textLength="19.60" lengthAdjust="spacingAndGlyphs" fill="#59595b">REDUCES RISK</text>
<path d="M701.800 263.300l4.300 0.800l0.900 5.400l-4 0.400z" fill="#c8141d"/>
<path d="M697.400 266.200h4.200l1 1.500h7.800v3h-10.600l-2.400 6.900z" fill="#4b4b4d"/>
<path d="M700.600 271.600h11.400l-2.300 6.800h-11.700z" fill="#707173" stroke="#fff" stroke-width="0.5"/>
<text x="704.17" y="283.21" font-size="4.1" text-anchor="middle" textLength="16.85" lengthAdjust="spacingAndGlyphs" fill="#59595b">ORGANIZES</text>
<rect x="722.600" y="264.900" width="11.500" height="11.900" fill="#c8141d"/>
<rect x="722.10" y="264.50" width="5.60" height="5.60" fill="#6d6e70"/>
<circle cx="724.90" cy="263.80" r="1" fill="#6d6e70"/>
<circle cx="724.90" cy="270.80" r="1" fill="#6d6e70"/>
<circle cx="721.40" cy="267.30" r="1" fill="#6d6e70"/>
<circle cx="728.40" cy="267.30" r="1" fill="#6d6e70"/>
<rect x="728.40" y="271.40" width="5.80" height="5.80" fill="#8b8d90"/>
<circle cx="731.30" cy="270.68" r="1" fill="#8b8d90"/>
<circle cx="731.30" cy="277.93" r="1" fill="#8b8d90"/>
<circle cx="727.67" cy="274.30" r="1" fill="#8b8d90"/>
<circle cx="734.92" cy="274.30" r="1" fill="#8b8d90"/>
<path d="M727.600 272.800l3-3.200 M730.700 271.400l0.100-2l-2 0.100" stroke="#fff" stroke-width="0.6" fill="none"/>
<text x="728.42" y="283.21" font-size="4.1" text-anchor="middle" textLength="16.65" lengthAdjust="spacingAndGlyphs" fill="#59595b">INTEGRATES</text>
<path d="M751.75 270.9L750.2 264.4" stroke="#77787a" stroke-width="0.6"/>
<circle cx="750.2" cy="264.4" r="0.95" fill="#c8141d"/>
<path d="M751.75 270.9L757 268.2" stroke="#77787a" stroke-width="0.6"/>
<circle cx="757" cy="268.2" r="0.95" fill="#c8141d"/>
<path d="M751.75 270.9L756.7 276.7" stroke="#77787a" stroke-width="0.6"/>
<circle cx="756.7" cy="276.7" r="0.95" fill="#c8141d"/>
<path d="M751.75 270.9L749.5 277" stroke="#77787a" stroke-width="0.6"/>
<circle cx="749.5" cy="277" r="0.95" fill="#c8141d"/>
<path d="M751.75 270.9L745.2 271.3" stroke="#77787a" stroke-width="0.6"/>
<circle cx="745.2" cy="271.3" r="0.95" fill="#c8141d"/>
<circle cx="751.75" cy="270.9" r="2.300" fill="#c8141d"/>
<text x="751.05" y="283.21" font-size="4.1" text-anchor="middle" textLength="16.90" lengthAdjust="spacingAndGlyphs" fill="#59595b">CONNECTS</text>
<path d="M583.300 301.300l18.300 4.900" stroke="#4b4b4d" stroke-width="1.250" stroke-linecap="round"/>
<path d="M587.600 303.200l2.300 3.300h-5.400z" fill="#6a6b6d"/>
<path d="M584 306.600h6.600" stroke="#8b8d90" stroke-width="0.5"/>
<text x="592.42" y="316.81" font-size="4.1" text-anchor="middle" textLength="23.35" lengthAdjust="spacingAndGlyphs" fill="#59595b">REDUCES EFFORT</text>
<path d="M619.700 310.600v-6q0-1.800-3-5l2.200-1.900q3.300 3.300 4.600 5.600q1.300-2.300 4.600-5.600l2.200 1.900q-3 3.200-3 5v6z" fill="#c8141d"/>
<path d="M615.800 301.200l0.400-5l4.800 1.400z M631.200 301.200l-0.400-5l-4.800 1.400z" fill="#c8141d"/>
<path d="M623.500 309.300v-3.600 M622.500 306.500l1-1.300l1 1.300" stroke="#fff" stroke-width="0.6" fill="none"/>
<text x="623.30" y="316.81" font-size="4.1" text-anchor="middle" textLength="23.40" lengthAdjust="spacingAndGlyphs" fill="#59595b">AVOIDS HASSLES</text>
<rect x="650.2" y="298.3" width="5.2" height="11.099999999999966" fill="#8b8d90"/>
<ellipse cx="652.8000000000001" cy="309.4" rx="2.6" ry="0.9" fill="#8b8d90"/>
<ellipse cx="652.8000000000001" cy="298.3" rx="2.6" ry="0.9" fill="#b9bbbd" stroke="#8b8d90" stroke-width="0.3"/>
<path d="M650.2 300.00q2.6 1.600 5.2 0" fill="none" stroke="#d5d6d8" stroke-width="0.3"/>
<path d="M650.2 301.70q2.6 1.600 5.2 0" fill="none" stroke="#d5d6d8" stroke-width="0.3"/>
<path d="M650.2 303.40q2.6 1.600 5.2 0" fill="none" stroke="#d5d6d8" stroke-width="0.3"/>
<path d="M650.2 305.10q2.6 1.600 5.2 0" fill="none" stroke="#d5d6d8" stroke-width="0.3"/>
<path d="M650.2 306.80q2.6 1.600 5.2 0" fill="none" stroke="#d5d6d8" stroke-width="0.3"/>
<path d="M650.2 308.50q2.6 1.600 5.2 0" fill="none" stroke="#d5d6d8" stroke-width="0.3"/>
<rect x="655.3" y="301.5" width="4.4" height="5.0" fill="#8b8d90"/>
<ellipse cx="657.5" cy="306.5" rx="2.2" ry="0.9" fill="#8b8d90"/>
<ellipse cx="657.5" cy="301.5" rx="2.2" ry="0.9" fill="#b9bbbd" stroke="#8b8d90" stroke-width="0.3"/>
<path d="M655.3 303.20q2.2 1.600 4.4 0" fill="none" stroke="#d5d6d8" stroke-width="0.3"/>
<path d="M655.3 304.90q2.2 1.600 4.4 0" fill="none" stroke="#d5d6d8" stroke-width="0.3"/>
<rect x="645.4" y="305.2" width="4.9" height="4.400000000000034" fill="#4b4b4d"/>
<ellipse cx="647.85" cy="309.6" rx="2.45" ry="0.9" fill="#4b4b4d"/>
<ellipse cx="647.85" cy="305.2" rx="2.45" ry="0.9" fill="#b9bbbd" stroke="#4b4b4d" stroke-width="0.3"/>
<path d="M645.4 306.90q2.45 1.600 4.9 0" fill="none" stroke="#d5d6d8" stroke-width="0.3"/>
<path d="M645.4 308.60q2.45 1.600 4.9 0" fill="none" stroke="#d5d6d8" stroke-width="0.3"/>
<circle cx="657.300" cy="307.700" r="3" fill="#c8141d" stroke="#fff" stroke-width="0.5"/>
<text x="657.300" y="309.200" font-size="4.200" font-weight="bold" text-anchor="middle" fill="#fff">$</text>
<text x="653.05" y="316.81" font-size="4.1" text-anchor="middle" textLength="22.10" lengthAdjust="spacingAndGlyphs" fill="#59595b">REDUCES COST</text>
<circle cx="679.750" cy="303.900" r="5.600" fill="none" stroke="#4b4b4d" stroke-width="1.450"/>
<path d="M675.900 302.700l3.300 3.500l8.200-8.200" fill="none" stroke="#c8141d" stroke-width="2.400"/>
<text x="680.45" y="316.81" font-size="4.1" text-anchor="middle" textLength="11.90" lengthAdjust="spacingAndGlyphs" fill="#59595b">QUALITY</text>
<circle cx="702.700" cy="299.800" r="3.150" fill="#c8141d"/>
<rect x="708.300" y="297.300" width="4.700" height="5.200" fill="#8b8d90"/>
<path d="M709.900 297.300v5.200M711.400 297.300v5.200M708.300 299h4.700M708.300 300.800h4.700" stroke="#a9abad" stroke-width="0.3"/>
<path d="M702.500 305.600l2.600 5h-5.200z" fill="#4b4b4d"/>
<path d="M710.60 304.60L711.45 306.93L713.93 307.02L711.98 308.55L712.66 310.93L710.60 309.55L708.54 310.93L709.22 308.55L707.27 307.02L709.75 306.93z" fill="#c8141d"/>
<text x="707.00" y="316.81" font-size="4.1" text-anchor="middle" textLength="11.20" lengthAdjust="spacingAndGlyphs" fill="#59595b">VARIETY</text>
<path d="M741.900 308.800q-1.400-0.300-1-2q0.500-1.400-0.600-2.700q-1-2.600 1.300-3.800q2.500-0.700 2.900 1.900q0.100 1.900-1.100 3.200q-0.700 1.100-0.300 2.300 M741 302.700q0.900-1.400 1.900-0.300q0.400 1.100-0.800 2" fill="none" stroke="#c8141d" stroke-width="0.9" stroke-linecap="round"/>
<path d="M727.400 306.200q0.300-2 1.500-1.700q1 0.500 0.300 2q-0.900 1.100-1.800-0.300z M730.900 306.600q1.400 0.600 2-0.500v-4.700 M734.600 306.700q1.300 0.400 1.700-0.800l-0.300-3.100 M737.300 307q1.600-0.200 1.400-1.800q-0.500-1.200-1.600-0.400" fill="none" stroke="#c8141d" stroke-width="0.9" stroke-linecap="round"/>
<text x="735.42" y="316.81" font-size="4.1" text-anchor="middle" textLength="24.35" lengthAdjust="spacingAndGlyphs" fill="#59595b">SENSORY APPEAL</text>
<circle cx="764.600" cy="303" r="6.500" fill="#c8141d"/>
<path d="M759.600 307l-1.600 3.300l4-1.500z" fill="#c8141d"/>
<circle cx="764.700" cy="299.400" r="1.100" fill="#fff"/><path d="M763.500 301.700h2.100v4.400h0.900v1h-3.100v-1h0.900v-3.400h-0.800z" fill="#fff"/>
<text x="766.38" y="316.81" font-size="4.1" text-anchor="middle" textLength="18.25" lengthAdjust="spacingAndGlyphs" fill="#59595b">INFORMS</text>
</g>
</svg>
</body>
</html>
